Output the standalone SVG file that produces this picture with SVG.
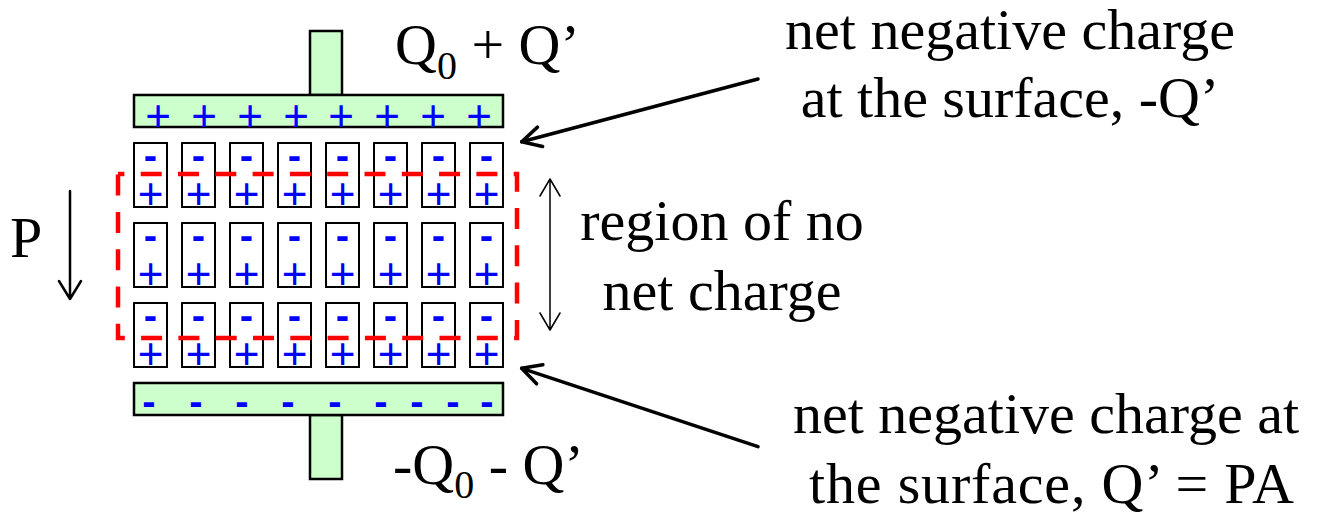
<svg xmlns="http://www.w3.org/2000/svg" width="1320" height="512" viewBox="0 0 1320 512">
<style>
.plate{fill:#CCFFCC;stroke:#000;stroke-width:2.5}
.cell{fill:#fff;stroke:#000;stroke-width:2}
.pl{font-family:"Liberation Sans",Arial,sans-serif;font-size:44px;fill:#0000FF;text-anchor:middle}
.mi{font-family:"Liberation Sans",Arial,sans-serif;font-size:40px;font-weight:bold;fill:#0000FF;text-anchor:middle}
.lbl{font-family:"Liberation Serif","Times New Roman",serif;font-size:58px;fill:#000}
.ctr{text-anchor:middle}
.arr{fill:none;stroke:#000;stroke-linecap:round;stroke-linejoin:round}
</style>
<defs>
<marker id="ah" viewBox="-22 -12 24 24" refX="0" refY="0" markerWidth="24" markerHeight="24" markerUnits="userSpaceOnUse" orient="auto" overflow="visible">
<path d="M-19,-10 L0,0 L-19,10" fill="none" stroke="#000" stroke-width="3.5" stroke-linecap="round" stroke-linejoin="round"/>
</marker>
</defs>

<g id="top-electrode">
<rect class="plate" x="310" y="31" width="32" height="64"/>
<rect class="plate" x="134" y="95" width="369" height="32"/>
<text class="pl" x="158" y="131">+</text>
<text class="pl" x="204" y="131">+</text>
<text class="pl" x="250" y="131">+</text>
<text class="pl" x="296" y="131">+</text>
<text class="pl" x="341" y="131">+</text>
<text class="pl" x="387" y="131">+</text>
<text class="pl" x="433" y="131">+</text>
<text class="pl" x="479" y="131">+</text>
</g>

<g id="bottom-electrode">
<rect class="plate" x="310" y="415" width="32" height="64"/>
<rect class="plate" x="134" y="383" width="369" height="32"/>
<text class="mi" x="149" y="415">-</text>
<text class="mi" x="196" y="415">-</text>
<text class="mi" x="242" y="415">-</text>
<text class="mi" x="288" y="415">-</text>
<text class="mi" x="335" y="415">-</text>
<text class="mi" x="381" y="415">-</text>
<text class="mi" x="417" y="415">-</text>
<text class="mi" x="453" y="415">-</text>
<text class="mi" x="487" y="415">-</text>
</g>

<g id="dipoles">
<g id="row1">
<rect class="cell" x="134" y="143" width="33" height="64"/>
<rect class="cell" x="182" y="143" width="33" height="64"/>
<rect class="cell" x="230" y="143" width="33" height="64"/>
<rect class="cell" x="278" y="143" width="33" height="64"/>
<rect class="cell" x="326" y="143" width="33" height="64"/>
<rect class="cell" x="374" y="143" width="33" height="64"/>
<rect class="cell" x="422" y="143" width="33" height="64"/>
<rect class="cell" x="470" y="143" width="33" height="64"/>
</g>
<g id="row2">
<rect class="cell" x="134" y="223" width="33" height="64"/>
<rect class="cell" x="182" y="223" width="33" height="64"/>
<rect class="cell" x="230" y="223" width="33" height="64"/>
<rect class="cell" x="278" y="223" width="33" height="64"/>
<rect class="cell" x="326" y="223" width="33" height="64"/>
<rect class="cell" x="374" y="223" width="33" height="64"/>
<rect class="cell" x="422" y="223" width="33" height="64"/>
<rect class="cell" x="470" y="223" width="33" height="64"/>
</g>
<g id="row3">
<rect class="cell" x="134" y="303" width="33" height="64"/>
<rect class="cell" x="182" y="303" width="33" height="64"/>
<rect class="cell" x="230" y="303" width="33" height="64"/>
<rect class="cell" x="278" y="303" width="33" height="64"/>
<rect class="cell" x="326" y="303" width="33" height="64"/>
<rect class="cell" x="374" y="303" width="33" height="64"/>
<rect class="cell" x="422" y="303" width="33" height="64"/>
<rect class="cell" x="470" y="303" width="33" height="64"/>
</g>
<g id="dipole-signs">
<text class="mi" x="150.5" y="168.5">-</text><text class="pl" x="150.5" y="208.5">+</text>
<text class="mi" x="198.5" y="168.5">-</text><text class="pl" x="198.5" y="208.5">+</text>
<text class="mi" x="246.5" y="168.5">-</text><text class="pl" x="246.5" y="208.5">+</text>
<text class="mi" x="294.5" y="168.5">-</text><text class="pl" x="294.5" y="208.5">+</text>
<text class="mi" x="342.5" y="168.5">-</text><text class="pl" x="342.5" y="208.5">+</text>
<text class="mi" x="390.5" y="168.5">-</text><text class="pl" x="390.5" y="208.5">+</text>
<text class="mi" x="438.5" y="168.5">-</text><text class="pl" x="438.5" y="208.5">+</text>
<text class="mi" x="486.5" y="168.5">-</text><text class="pl" x="486.5" y="208.5">+</text>

<text class="mi" x="150.5" y="248.5">-</text><text class="pl" x="150.5" y="288.5">+</text>
<text class="mi" x="198.5" y="248.5">-</text><text class="pl" x="198.5" y="288.5">+</text>
<text class="mi" x="246.5" y="248.5">-</text><text class="pl" x="246.5" y="288.5">+</text>
<text class="mi" x="294.5" y="248.5">-</text><text class="pl" x="294.5" y="288.5">+</text>
<text class="mi" x="342.5" y="248.5">-</text><text class="pl" x="342.5" y="288.5">+</text>
<text class="mi" x="390.5" y="248.5">-</text><text class="pl" x="390.5" y="288.5">+</text>
<text class="mi" x="438.5" y="248.5">-</text><text class="pl" x="438.5" y="288.5">+</text>
<text class="mi" x="486.5" y="248.5">-</text><text class="pl" x="486.5" y="288.5">+</text>

<text class="mi" x="150.5" y="328.5">-</text><text class="pl" x="150.5" y="368.5">+</text>
<text class="mi" x="198.5" y="328.5">-</text><text class="pl" x="198.5" y="368.5">+</text>
<text class="mi" x="246.5" y="328.5">-</text><text class="pl" x="246.5" y="368.5">+</text>
<text class="mi" x="294.5" y="328.5">-</text><text class="pl" x="294.5" y="368.5">+</text>
<text class="mi" x="342.5" y="328.5">-</text><text class="pl" x="342.5" y="368.5">+</text>
<text class="mi" x="390.5" y="328.5">-</text><text class="pl" x="390.5" y="368.5">+</text>
<text class="mi" x="438.5" y="328.5">-</text><text class="pl" x="438.5" y="368.5">+</text>
<text class="mi" x="486.5" y="328.5">-</text><text class="pl" x="486.5" y="368.5">+</text>
</g>
</g>

<g id="region-box">
<path d="M118,174 H517 V338 H118 Z" fill="none" stroke="#FF0000" stroke-width="4.5" stroke-dasharray="21 16.3" stroke-dashoffset="14.6"/>
</g>

<g id="connectors">
<path class="arr" d="M758,79 L521.7,141.7" stroke-width="3.5" marker-end="url(#ah)"/>
<path class="arr" d="M758,446.7 L521.7,368.3" stroke-width="3.5" marker-end="url(#ah)"/>
<path class="arr" d="M70,191 V299 M59,281 L70,299 L81,281" stroke-width="2.5"/>
<path class="arr" d="M550,179 V330 M540,196 L550,179 L560,196 M540,313 L550,330 L560,313" stroke-width="1.5"/>
</g>

<g id="labels">
<text class="lbl" x="10" y="257">P</text>
<text class="lbl" x="395" y="64">Q<tspan dy="15" font-size="40">0</tspan><tspan dy="-15"> + Q’</tspan></text>
<text class="lbl" x="393" y="484">-Q<tspan dy="14" font-size="40">0</tspan><tspan dy="-14"> - Q’</tspan></text>
<text class="lbl ctr" x="722" y="240">region of no</text>
<text class="lbl ctr" x="722" y="310">net charge</text>
<text class="lbl ctr" x="1010" y="49">net negative charge</text>
<text class="lbl ctr" x="1010" y="117">at the surface, -Q’</text>
<text class="lbl" x="793" y="433">net negative charge at</text>
<text class="lbl" x="809" y="503" textLength="485" lengthAdjust="spacing">the surface, Q’ = PA</text>
</g>
</svg>
